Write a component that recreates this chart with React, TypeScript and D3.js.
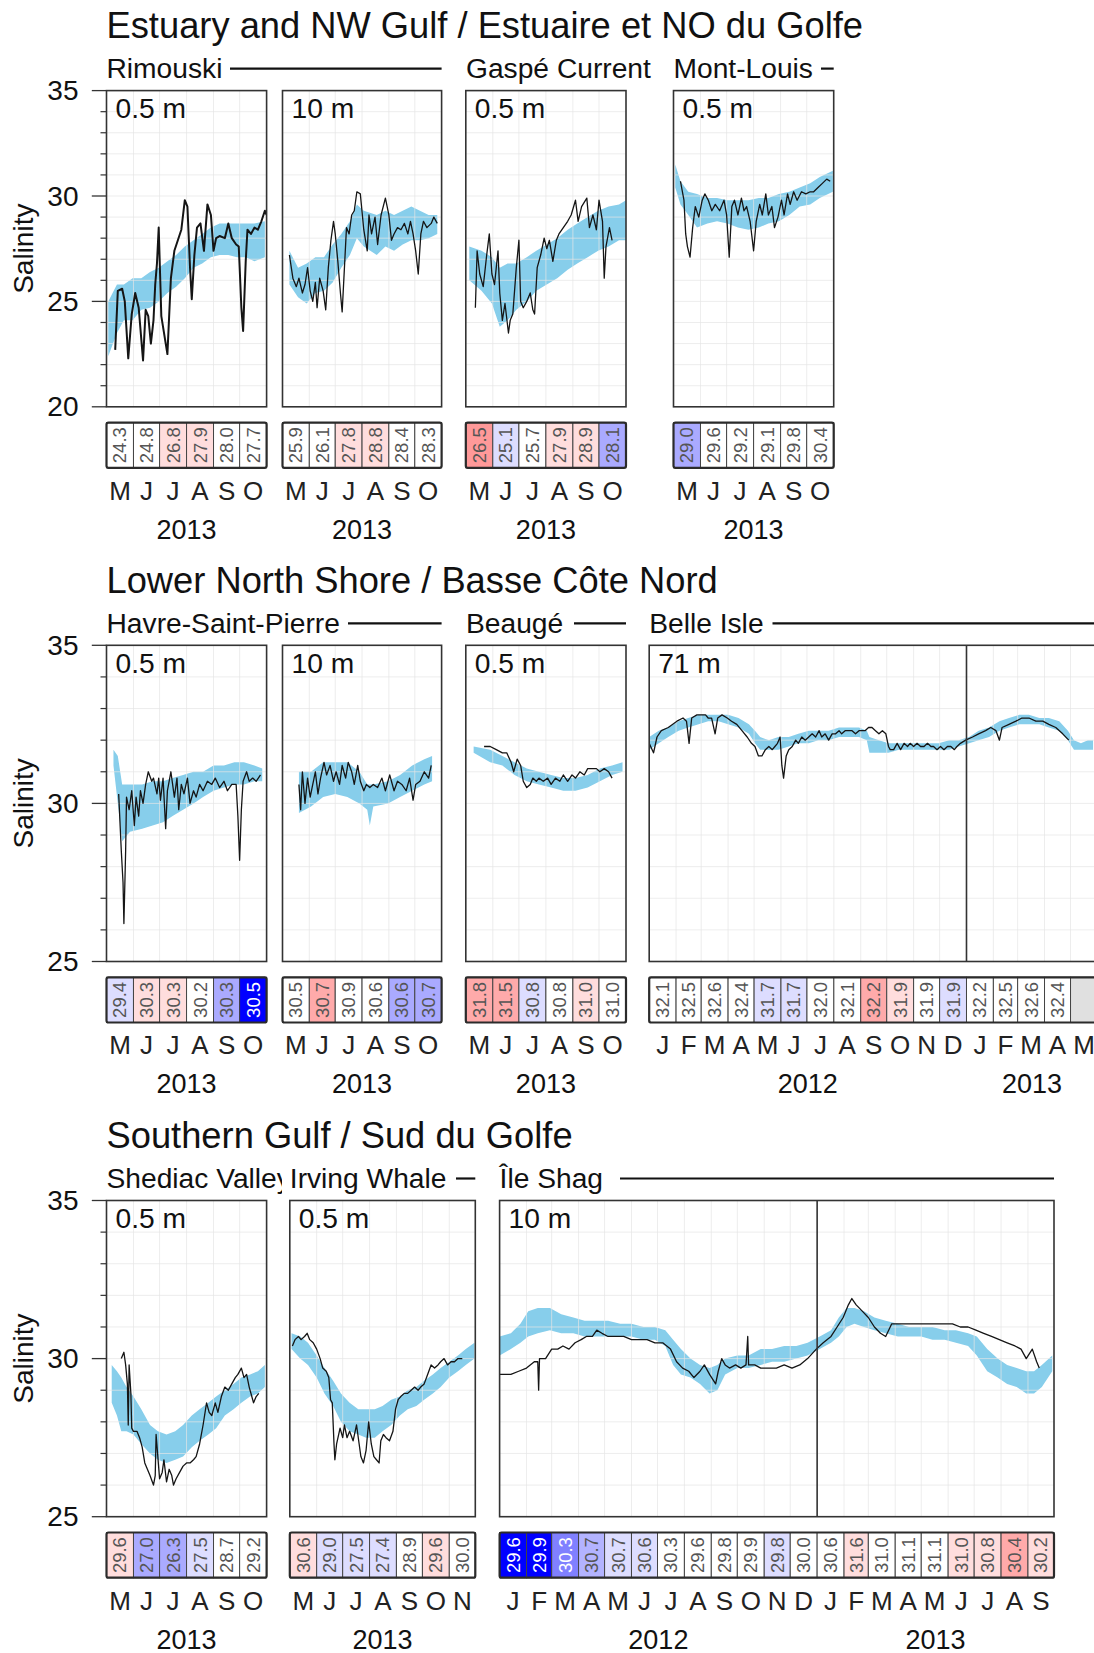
import React from "react";
import * as d3 from "d3";

// ---- data (day = day of the panel's base year, salinity) ----

const MONTH_LETTERS = ["J", "F", "M", "A", "M", "J", "J", "A", "S", "O", "N", "D"];

// Rimouski 0.5 m (2013)
const rim05Obs: [number, number][] = [
  [131, 22.7], [134, 25.5], [139, 25.6], [142, 25.0], [146, 22.3], [150, 24.4], [154, 25.4], [158, 24.7],
  [161, 23.2], [163, 22.2], [166, 24.6], [169, 24.3], [172, 23.0], [175, 24.1], [177, 25.8], [179, 26.8],
  [181, 28.5], [184, 24.3], [191, 22.5], [195, 26.1], [199, 27.4], [203, 27.9], [207, 28.4], [211, 29.8],
  [214, 29.5], [217, 26.6], [219, 25.1], [222, 27.2], [225, 28.5], [229, 28.7], [233, 27.4], [237, 29.6],
  [241, 29.1], [244, 27.4], [247, 28.0], [251, 28.1], [257, 28.0], [261, 28.7], [265, 28.0], [270, 27.7],
  [273, 27.6], [276, 24.7], [278, 23.6], [281, 26.9], [283, 28.4], [287, 28.2], [291, 28.5], [295, 28.4],
  [299, 28.8], [303, 29.3], [305, 29.1],
];
const rim05Clim: [number, number, number][] = [
  [123, 22.4, 25.0], [133, 23.5, 25.8], [141, 24.1, 25.8], [151, 24.1, 26.1], [161, 24.6, 26.1],
  [171, 24.7, 26.4], [181, 25.0, 26.6], [191, 25.4, 26.9], [201, 25.7, 27.2], [211, 26.1, 27.6],
  [221, 26.6, 27.9], [231, 26.8, 28.2], [241, 27.1, 28.5], [251, 27.2, 28.7], [261, 27.2, 28.7],
  [271, 27.1, 28.7], [281, 27.1, 28.7], [291, 26.9, 28.7], [303, 27.1, 28.8],
];
const rim05Monthly = [24.3, 24.8, 26.8, 27.9, 28.0, 27.7];
const rim05Anom = [0, 0, 0.4, 0.4, 0, 0];

// Rimouski 10 m
const rim10Obs: [number, number][] = [
  [129, 27.2], [133, 26.1], [137, 25.7], [140, 26.1], [144, 25.4], [147, 25.8], [150, 26.6], [153, 25.5],
  [156, 25.0], [159, 25.9], [161, 24.7], [164, 26.1], [168, 25.5], [171, 24.6], [174, 26.6], [177, 27.9],
  [180, 28.8], [182, 28.2], [185, 26.9], [188, 25.4], [190, 24.5], [193, 26.9], [195, 28.5], [198, 28.2],
  [201, 29.1], [204, 29.3], [207, 30.2], [211, 30.1], [215, 28.4], [219, 27.4], [221, 29.1], [224, 28.2],
  [228, 29.0], [231, 27.7], [235, 29.1], [240, 29.9], [244, 29.1], [247, 27.9], [250, 28.2], [254, 28.5],
  [258, 28.4], [262, 28.7], [266, 28.2], [269, 28.8], [272, 28.2], [275, 27.4], [278, 26.3], [281, 28.2],
  [284, 28.8], [288, 28.5], [293, 28.7], [296, 29.0], [300, 28.7],
];
const rim10Clim: [number, number, number][] = [
  [129, 25.8, 27.4], [139, 25.2, 26.6], [149, 24.9, 26.8], [159, 25.4, 27.1], [169, 25.5, 27.1],
  [179, 25.9, 27.7], [189, 26.6, 28.2], [199, 27.2, 28.8], [207, 28.0, 29.6], [215, 27.6, 29.3],
  [230, 27.2, 29.1], [240, 27.6, 29.3], [250, 27.4, 29.1], [260, 27.7, 29.3], [270, 27.9, 29.5],
  [280, 27.9, 29.3], [290, 28.0, 29.1], [300, 28.2, 29.1],
];
const rim10Monthly = [25.9, 26.1, 27.8, 28.8, 28.4, 28.3];
const rim10Anom = [0, 0, 0.4, 0.4, 0, 0];

// Gaspé Current 0.5 m
const gaspeObs: [number, number][] = [
  [132, 24.7], [134, 27.4], [137, 26.3], [141, 25.7], [145, 27.2], [148, 28.2], [151, 26.3], [154, 25.8],
  [158, 27.4], [160, 25.4], [163, 24.1], [166, 24.9], [170, 23.5], [172, 24.1], [175, 24.4], [179, 26.6],
  [182, 27.9], [184, 25.0], [187, 24.7], [191, 25.0], [195, 25.4], [198, 24.6], [200, 24.4], [203, 26.6],
  [207, 27.2], [211, 28.0], [214, 27.5], [217, 27.9], [221, 26.9], [225, 27.9], [228, 28.2], [233, 28.5],
  [238, 28.8], [242, 29.1], [247, 29.8], [250, 28.8], [254, 29.5], [260, 29.9], [263, 28.5], [267, 29.1],
  [271, 28.4], [274, 29.8], [278, 28.8], [280, 26.1], [282, 27.6], [286, 28.5], [289, 27.9],
];
const gaspeClim: [number, number, number][] = [
  [125, 26.0, 27.6], [139, 25.5, 27.4], [151, 24.9, 27.1], [160, 23.8, 26.6], [169, 24.1, 26.8],
  [179, 24.6, 26.8], [191, 25.0, 27.1], [202, 25.5, 27.4], [214, 25.8, 27.7], [226, 26.1, 28.0],
  [238, 26.5, 28.4], [249, 26.8, 28.7], [261, 27.1, 29.0], [273, 27.4, 29.3], [285, 27.6, 29.5],
  [297, 27.9, 29.6], [305, 27.9, 29.8],
];
const gaspeMonthly = [26.5, 25.1, 25.7, 27.9, 28.9, 28.1];
const gaspeAnom = [1.2, -0.4, 0, 0.4, 0.4, -1];

// Mont-Louis 0.5 m
const mlObs: [number, number][] = [
  [129, 30.7], [133, 29.8], [135, 28.2], [137, 27.6], [140, 27.1], [143, 28.5], [146, 29.5], [150, 29.0],
  [154, 29.8], [157, 30.1], [161, 29.8], [165, 29.3], [169, 29.6], [174, 29.3], [179, 29.8], [182, 29.1],
  [185, 27.1], [188, 29.5], [191, 29.8], [195, 29.1], [199, 29.9], [202, 29.3], [205, 29.5], [209, 28.8],
  [213, 27.4], [216, 28.8], [220, 29.6], [223, 29.1], [227, 30.1], [230, 29.1], [234, 29.5], [237, 28.5],
  [241, 29.0], [245, 29.8], [248, 29.1], [252, 30.1], [255, 29.6], [259, 30.2], [263, 29.8], [268, 30.2],
  [273, 30.1], [278, 30.2], [282, 30.2], [287, 30.4], [292, 30.6], [297, 30.8], [301, 30.7],
];
const mlClim: [number, number, number][] = [
  [123, 30.4, 31.5], [129, 29.6, 30.7], [138, 29.1, 30.2], [148, 28.5, 30.1], [160, 28.7, 29.9],
  [171, 28.8, 29.9], [183, 28.7, 29.8], [195, 28.5, 29.8], [207, 28.4, 29.8], [219, 28.5, 29.9],
  [230, 28.7, 29.9], [242, 28.8, 30.1], [254, 29.1, 30.2], [266, 29.5, 30.4], [278, 29.6, 30.6],
  [289, 29.9, 30.9], [304, 30.2, 31.2],
];
const mlMonthly = [29.0, 29.6, 29.2, 29.1, 29.8, 30.4];
const mlAnom = [-1, 0, 0, 0, 0, 0];

// Havre-Saint-Pierre 0.5 m
const hsp05Obs: [number, number][] = [
  [135, 30.3], [138, 28.5], [140, 27.5], [141, 26.2], [143, 28.5], [144, 30.2], [147, 29.8], [150, 30.4],
  [153, 29.3], [155, 30.2], [158, 29.6], [160, 30.4], [163, 30.0], [166, 30.6], [169, 31.0], [173, 30.7],
  [175, 30.8], [179, 30.3], [181, 30.8], [183, 30.1], [186, 30.8], [189, 29.2], [191, 30.4], [195, 31.0],
  [199, 30.2], [202, 30.8], [204, 29.8], [207, 30.6], [210, 30.3], [214, 30.8], [217, 30.0], [221, 30.4],
  [224, 30.2], [228, 30.6], [232, 30.4], [237, 30.7], [242, 30.6], [246, 30.8], [251, 30.5], [256, 30.7],
  [260, 30.4], [265, 30.6], [270, 30.6], [272, 29.6], [274, 28.2], [276, 29.8], [278, 30.7], [282, 31.0],
  [285, 30.7], [289, 30.8], [293, 30.7], [298, 30.9],
];
const hsp05Clim: [number, number, number][] = [
  [129, 31.2, 31.7], [134, 30.0, 31.5], [139, 28.8, 30.6], [148, 29.1, 30.6], [162, 29.2, 30.6],
  [174, 29.3, 30.7], [186, 29.4, 30.7], [197, 29.6, 30.8], [209, 29.8, 30.9], [221, 30.0, 31.0],
  [232, 30.2, 31.0], [244, 30.4, 31.2], [256, 30.5, 31.2], [268, 30.6, 31.3], [279, 30.6, 31.3],
  [291, 30.7, 31.2], [300, 30.7, 31.1],
];
const hsp05Monthly = [29.4, 30.3, 30.3, 30.2, 30.3, 30.5];
const hsp05Anom = [-0.4, 0.4, 0.4, 0, -1, -3];

// Havre-Saint-Pierre 10 m
const hsp10Obs: [number, number][] = [
  [140, 30.6], [142, 29.8], [144, 31.0], [147, 30.0], [150, 30.8], [153, 30.2], [156, 30.6], [159, 31.0],
  [162, 30.3], [165, 30.8], [169, 31.3], [172, 30.9], [176, 31.2], [180, 30.7], [183, 31.0], [187, 30.6],
  [190, 31.2], [194, 30.8], [197, 31.3], [201, 31.0], [204, 30.6], [208, 31.2], [211, 30.7], [215, 30.4],
  [218, 30.6], [222, 30.5], [226, 30.6], [231, 30.5], [236, 30.8], [240, 30.4], [245, 30.9], [250, 30.4],
  [254, 30.7], [259, 30.6], [264, 30.4], [268, 30.8], [272, 30.1], [275, 30.6], [280, 30.7], [285, 31.0],
  [290, 30.8], [293, 31.2],
];
const hsp10Clim: [number, number, number][] = [
  [140, 29.7, 31.0], [154, 29.9, 31.0], [168, 30.2, 31.3], [182, 30.3, 31.3], [196, 30.2, 31.3],
  [210, 30.0, 31.0], [219, 29.8, 30.6], [222, 29.3, 30.6], [226, 29.9, 30.6], [243, 30.0, 30.7],
  [257, 30.2, 30.9], [271, 30.4, 31.2], [285, 30.6, 31.4], [294, 30.7, 31.5],
];
const hsp10Monthly = [30.5, 30.7, 30.9, 30.6, 30.6, 30.7];
const hsp10Anom = [0, 1, 0, 0, -1, -1];

// Beaugé 0.5 m
const beaugeObs: [number, number][] = [
  [142, 31.8], [149, 31.8], [156, 31.7], [163, 31.6], [168, 31.6], [173, 31.3], [176, 31.0], [180, 31.4],
  [184, 31.2], [187, 30.7], [191, 30.5], [195, 30.6], [198, 30.8], [202, 30.7], [205, 30.8], [210, 30.7],
  [215, 30.8], [219, 30.6], [224, 30.8], [229, 30.7], [233, 30.9], [238, 30.7], [243, 30.9], [247, 30.8],
  [252, 31.0], [257, 30.9], [261, 31.1], [266, 31.1], [271, 31.1], [275, 31.0], [280, 31.1], [285, 31.0],
  [289, 30.8],
];
const beaugeClim: [number, number, number][] = [
  [130, 31.6, 31.8], [149, 31.3, 31.7], [163, 31.2, 31.5], [177, 30.9, 31.3], [191, 30.7, 31.1],
  [205, 30.6, 31.0], [219, 30.5, 30.9], [233, 30.4, 30.8], [247, 30.4, 30.8], [261, 30.5, 30.9],
  [275, 30.7, 31.1], [289, 30.9, 31.2], [301, 31.0, 31.3],
];
const beaugeMonthly = [31.8, 31.5, 30.8, 30.8, 31.0, 31.0];
const beaugeAnom = [1, 1, -0.4, 0, 0.4, 0];

// Belle Isle 71 m (days from 1 Jan 2012)
const belleObs: [number, number][] = [
  [1, 31.9], [6, 31.6], [10, 32.1], [15, 32.3], [23, 32.4], [33, 32.6], [40, 32.7], [44, 32.6], [47, 31.9],
  [50, 32.7], [56, 32.8], [62, 32.8], [66, 32.8], [69, 32.7], [73, 32.7], [77, 32.2], [80, 32.7], [85, 32.8],
  [91, 32.7], [96, 32.6], [102, 32.5], [108, 32.3], [114, 32.1], [119, 31.9], [123, 31.8], [127, 31.5],
  [131, 31.5], [135, 31.7], [139, 31.8], [143, 31.7], [146, 31.8], [149, 31.9], [152, 32.1], [154, 31.2],
  [156, 30.8], [159, 31.5], [162, 31.7], [166, 31.8], [170, 32.0], [173, 31.9], [177, 32.1], [181, 32.0],
  [185, 32.1], [189, 32.2], [193, 32.1], [197, 32.3], [200, 32.1], [204, 32.2], [208, 32.0], [212, 32.2],
  [216, 32.2], [220, 32.3], [223, 32.2], [227, 32.3], [231, 32.3], [235, 32.3], [239, 32.2], [243, 32.3],
  [247, 32.3], [250, 32.3], [254, 32.4], [258, 32.4], [262, 32.3], [266, 32.2], [270, 32.3], [274, 32.2],
  [277, 31.8], [279, 31.7], [283, 31.7], [287, 31.9], [291, 31.7], [295, 31.9], [299, 31.8], [302, 31.9],
  [306, 31.8], [310, 31.9], [314, 31.8], [318, 31.8], [322, 31.9], [326, 31.8], [329, 31.8], [333, 31.7],
  [337, 31.8], [341, 31.7], [345, 31.8], [349, 31.8], [353, 31.7], [356, 31.8], [360, 31.9], [366, 32.0],
  [374, 32.1], [381, 32.2], [389, 32.3], [395, 32.4], [401, 32.3], [405, 32.0], [408, 32.4], [416, 32.5],
  [424, 32.6], [431, 32.7], [439, 32.7], [447, 32.6], [455, 32.6], [462, 32.5], [470, 32.4], [478, 32.2],
  [485, 32.0],
];
const belleClim: [number, number, number][] = [
  [1, 31.7, 32.1], [12, 31.9, 32.3], [23, 32.1, 32.4], [35, 32.3, 32.6], [46, 32.4, 32.7], [58, 32.5, 32.8],
  [69, 32.6, 32.8], [81, 32.6, 32.8], [92, 32.5, 32.8], [104, 32.4, 32.7], [116, 32.2, 32.5], [123, 31.9, 32.3],
  [129, 31.7, 32.1], [139, 31.7, 32.0], [150, 31.7, 32.1], [162, 31.8, 32.1], [173, 31.9, 32.2], [185, 31.9, 32.3],
  [196, 32.0, 32.3], [208, 32.0, 32.3], [220, 32.1, 32.4], [231, 32.1, 32.4], [243, 32.1, 32.4], [252, 32.0, 32.3],
  [255, 31.6, 32.1], [266, 31.6, 32.0], [277, 31.6, 31.9], [289, 31.7, 31.9], [301, 31.7, 31.9], [312, 31.7, 31.9],
  [324, 31.7, 31.9], [335, 31.7, 31.9], [347, 31.7, 32.0], [358, 31.8, 32.0], [370, 31.9, 32.1], [381, 32.0, 32.3],
  [393, 32.1, 32.4], [405, 32.3, 32.6], [416, 32.4, 32.7], [428, 32.5, 32.8], [439, 32.5, 32.8], [451, 32.5, 32.7],
  [462, 32.4, 32.7], [474, 32.3, 32.6], [484, 32.0, 32.3], [491, 31.7, 32.0], [499, 31.7, 31.9], [507, 31.7, 32.0],
  [513, 31.7, 32.0],
];
const belleMonthly: (number | null)[] = [
  32.1, 32.5, 32.6, 32.4, 31.7, 31.7, 32.0, 32.1, 32.2, 31.9, 31.9, 31.9, 32.2, 32.5, 32.6, 32.4, null,
];
const belleAnom = [0, 0, 0, 0, -0.4, -0.4, 0, 0, 1, 0.4, 0, -0.4, 0, 0, 0, 0, 0];

// Shediac Valley 0.5 m
const shediacObs: [number, number][] = [
  [138, 30.0], [141, 30.2], [143, 29.8], [145, 29.2], [146, 27.9], [147, 29.8], [149, 28.9], [150, 27.8],
  [152, 27.7], [156, 27.7], [159, 27.5], [162, 27.2], [165, 26.7], [168, 26.5], [171, 26.3], [175, 26.0],
  [177, 26.3], [178, 27.6], [182, 26.2], [185, 26.4], [187, 26.8], [190, 26.1], [193, 26.5], [196, 26.3],
  [198, 26.0], [201, 26.2], [205, 26.4], [209, 26.6], [213, 26.7], [217, 26.7], [221, 26.8], [224, 26.9],
  [228, 27.3], [232, 27.9], [236, 28.6], [239, 28.3], [242, 28.2], [246, 28.6], [249, 28.3], [253, 28.8],
  [257, 29.1], [261, 29.0], [265, 29.2], [269, 29.4], [272, 29.5], [276, 29.7], [279, 29.4], [282, 29.5],
  [285, 29.1], [288, 28.8], [290, 28.6], [293, 28.8], [296, 28.9],
];
const shediacClim: [number, number, number][] = [
  [127, 28.6, 29.8], [133, 28.2, 29.6], [138, 27.7, 29.4], [144, 27.7, 29.1], [152, 27.6, 28.8],
  [161, 27.3, 28.4], [171, 27.0, 27.9], [180, 26.8, 27.7], [190, 26.7, 27.6], [200, 26.8, 27.7],
  [209, 26.9, 27.9], [219, 27.2, 28.2], [228, 27.4, 28.4], [238, 27.6, 28.6], [247, 27.8, 28.8],
  [257, 28.2, 29.0], [267, 28.4, 29.2], [276, 28.6, 29.4], [286, 28.8, 29.5], [295, 28.9, 29.6],
  [303, 29.1, 29.8],
];
const shediacMonthly = [29.6, 27.0, 26.3, 27.5, 28.7, 29.2];
const shediacAnom = [0.4, -1, -1, -0.4, 0, 0];

// Irving Whale 0.5 m
const irvingObs: [number, number][] = [
  [124, 30.4], [127, 30.6], [131, 30.7], [134, 30.6], [138, 30.7], [141, 30.8], [144, 30.6], [148, 30.5],
  [152, 30.3], [156, 30.0], [159, 29.7], [163, 29.6], [166, 29.4], [168, 28.7], [170, 28.6], [172, 27.3],
  [173, 26.8], [175, 27.3], [179, 27.8], [182, 27.5], [184, 27.9], [187, 27.5], [190, 27.7], [194, 27.4],
  [198, 27.9], [201, 27.3], [203, 26.9], [206, 26.7], [209, 27.1], [212, 28.0], [215, 27.3], [218, 26.9],
  [221, 26.8], [224, 26.7], [226, 27.4], [229, 27.6], [232, 27.5], [236, 27.4], [240, 27.7], [243, 28.4],
  [246, 28.7], [249, 28.8], [253, 28.9], [257, 28.9], [261, 29.0], [265, 29.1], [269, 29.0], [272, 29.1],
  [276, 29.2], [280, 29.5], [284, 29.8], [288, 29.7], [292, 29.8], [295, 29.9], [299, 30.0], [303, 29.8],
  [307, 29.9], [311, 29.9], [315, 30.0], [320, 30.0],
];
const irvingClim: [number, number, number][] = [
  [123, 30.3, 30.8], [133, 30.0, 30.7], [142, 29.8, 30.5], [152, 29.4, 30.1], [161, 28.9, 29.7],
  [171, 28.5, 29.3], [180, 28.0, 28.9], [190, 27.7, 28.6], [200, 27.6, 28.4], [209, 27.5, 28.4],
  [219, 27.5, 28.4], [228, 27.7, 28.5], [238, 27.9, 28.7], [248, 28.2, 28.8], [257, 28.4, 29.0],
  [267, 28.5, 29.1], [276, 28.7, 29.3], [286, 28.9, 29.5], [295, 29.1, 29.7], [305, 29.4, 29.9],
  [315, 29.6, 30.1], [324, 29.8, 30.3], [334, 30.0, 30.5],
];
const irvingMonthly = [30.6, 29.0, 27.5, 27.4, 28.9, 29.6, 30.0];
const irvingAnom = [0.4, -0.4, -0.4, -0.4, 0, 0.4, 0];

// Île Shag 10 m (days from 1 Jan 2012)
const shagObs: [number, number][] = [
  [1, 29.5], [14, 29.5], [23, 29.6], [32, 29.7], [41, 29.9], [45, 29.9], [46, 29.0], [47, 30.0], [54, 30.0],
  [61, 30.3], [68, 30.3], [74, 30.4], [81, 30.3], [88, 30.5], [95, 30.6], [101, 30.7], [108, 30.7],
  [113, 30.9], [119, 30.8], [126, 30.7], [135, 30.7], [144, 30.7], [153, 30.6], [162, 30.6], [171, 30.6],
  [180, 30.5], [189, 30.5], [198, 30.3], [205, 29.9], [212, 29.7], [219, 29.6], [225, 29.4], [232, 29.6],
  [237, 29.8], [243, 29.5], [250, 29.2], [253, 29.6], [257, 30.0], [261, 29.8], [266, 29.7], [273, 29.8],
  [279, 29.7], [285, 29.8], [287, 30.7], [288, 29.8], [295, 29.8], [302, 29.7], [311, 29.7], [320, 29.7],
  [329, 29.8], [338, 29.7], [347, 29.8], [356, 30.0], [366, 30.3], [374, 30.5], [383, 30.7], [390, 31.0],
  [397, 31.3], [403, 31.7], [407, 31.9], [412, 31.7], [419, 31.5], [426, 31.3], [433, 31.0], [440, 30.8],
  [446, 30.7], [453, 31.1], [460, 31.1], [469, 31.1], [478, 31.1], [487, 31.1], [496, 31.1], [505, 31.1],
  [514, 31.1], [523, 31.1], [532, 31.0], [541, 31.0], [550, 30.9], [559, 30.8], [568, 30.7], [577, 30.6],
  [586, 30.5], [595, 30.4], [602, 30.3], [608, 30.0], [615, 30.3], [620, 29.9], [623, 29.7],
];
const shagClim: [number, number, number][] = [
  [1, 30.1, 30.7], [14, 30.3, 30.8], [25, 30.5, 31.1], [34, 30.7, 31.5], [45, 30.8, 31.6], [59, 30.9, 31.6],
  [72, 30.8, 31.4], [86, 30.8, 31.3], [99, 30.7, 31.2], [113, 30.7, 31.2], [126, 30.7, 31.2], [140, 30.7, 31.1],
  [153, 30.7, 31.1], [167, 30.6, 31.0], [180, 30.6, 31.0], [192, 30.4, 30.9], [201, 29.8, 30.6], [210, 29.5, 30.3],
  [221, 29.4, 30.0], [232, 29.2, 29.8], [243, 28.9, 29.7], [252, 29.0, 29.8], [261, 29.5, 30.0], [275, 29.7, 30.1],
  [288, 29.7, 30.1], [302, 29.8, 30.3], [315, 29.9, 30.3], [329, 29.9, 30.4], [343, 30.0, 30.4], [356, 30.1, 30.5],
  [370, 30.3, 30.7], [383, 30.5, 30.9], [392, 30.7, 31.3], [401, 31.0, 31.6], [410, 31.1, 31.6], [421, 31.0, 31.5],
  [433, 30.9, 31.3], [446, 30.8, 31.2], [460, 30.7, 31.1], [473, 30.7, 31.0], [487, 30.7, 31.0], [500, 30.6, 31.0],
  [514, 30.6, 30.9], [527, 30.5, 30.9], [541, 30.4, 30.8], [551, 30.1, 30.7], [563, 29.6, 30.3], [575, 29.4, 30.0],
  [586, 29.2, 29.8], [597, 29.1, 29.7], [608, 28.9, 29.6], [617, 28.9, 29.6], [626, 29.1, 29.8], [638, 29.6, 30.1],
];
const shagMonthly = [
  29.6, 29.9, 30.3, 30.7, 30.7, 30.6, 30.3, 29.6, 29.8, 29.9, 29.8, 30.0,
  30.6, 31.6, 31.0, 31.1, 31.1, 31.0, 30.8, 30.4, 30.2,
];
const shagAnom = [-3, -3, -1.5, -0.9, -0.4, -0.4, 0, 0, 0, 0, -0.4, 0, 0, 0.4, 0, 0, 0, 0.4, 0.4, 1, 0.4];

// ---- layout ----

const FONT = "'Liberation Sans', Arial, Helvetica, sans-serif";
const PANEL_H = 316.2;
const LABEL_SIZE = 28.2;

type Panel = {
  depth: string;
  x0: number;
  x1: number;
  base: number;
  start: [number, number];
  months: number;
  obs: [number, number][];
  clim: [number, number, number][];
  monthly: (number | null)[];
  anom: number[];
  lw?: number;
  divider?: boolean;
};
type Station = { name: string; x: number; lineFrom?: number; lineTo?: number; clipTo?: number };
type Row = { title: string; top: number; yDomain: [number, number]; panels: Panel[]; stations: Station[] };

const rows: Row[] = [
  {
    title: "Estuary and NW Gulf / Estuaire et NO du Golfe",
    top: 90.6,
    yDomain: [20, 35],
    stations: [
      { name: "Rimouski", x: 106.5, lineFrom: 230, lineTo: 441.6 },
      { name: "Gaspé Current", x: 466 },
      { name: "Mont-Louis", x: 673.5, lineFrom: 821, lineTo: 833.7 },
    ],
    panels: [
      { depth: "0.5 m", x0: 106.5, x1: 266.6, base: 2013, start: [2013, 4], months: 6, obs: rim05Obs, clim: rim05Clim, monthly: rim05Monthly, anom: rim05Anom, lw: 2 },
      { depth: "10 m", x0: 282.5, x1: 441.6, base: 2013, start: [2013, 4], months: 6, obs: rim10Obs, clim: rim10Clim, monthly: rim10Monthly, anom: rim10Anom },
      { depth: "0.5 m", x0: 465.8, x1: 626, base: 2013, start: [2013, 4], months: 6, obs: gaspeObs, clim: gaspeClim, monthly: gaspeMonthly, anom: gaspeAnom },
      { depth: "0.5 m", x0: 673.5, x1: 833.7, base: 2013, start: [2013, 4], months: 6, obs: mlObs, clim: mlClim, monthly: mlMonthly, anom: mlAnom },
    ],
  },
  {
    title: "Lower North Shore / Basse Côte Nord",
    top: 645.3,
    yDomain: [25, 35],
    stations: [
      { name: "Havre-Saint-Pierre", x: 106.5, lineFrom: 348, lineTo: 441.6 },
      { name: "Beaugé", x: 466, lineFrom: 574, lineTo: 626 },
      { name: "Belle Isle", x: 649.2, lineFrom: 772.5, lineTo: 1100 },
    ],
    panels: [
      { depth: "0.5 m", x0: 106.5, x1: 266.6, base: 2013, start: [2013, 4], months: 6, obs: hsp05Obs, clim: hsp05Clim, monthly: hsp05Monthly, anom: hsp05Anom },
      { depth: "10 m", x0: 282.5, x1: 441.6, base: 2013, start: [2013, 4], months: 6, obs: hsp10Obs, clim: hsp10Clim, monthly: hsp10Monthly, anom: hsp10Anom },
      { depth: "0.5 m", x0: 465.8, x1: 626, base: 2013, start: [2013, 4], months: 6, obs: beaugeObs, clim: beaugeClim, monthly: beaugeMonthly, anom: beaugeAnom },
      { depth: "71 m", x0: 649.2, x1: 1097.4, base: 2012, start: [2012, 0], months: 17, obs: belleObs, clim: belleClim, monthly: belleMonthly, anom: belleAnom, divider: true },
    ],
  },
  {
    title: "Southern Gulf / Sud du Golfe",
    top: 1200.5,
    yDomain: [25, 35],
    stations: [
      { name: "Shediac Valley", x: 106.5, clipTo: 282 },
      { name: "Irving Whale", x: 289.8, lineFrom: 456, lineTo: 475.3 },
      { name: "Île Shag", x: 499.6, lineFrom: 620, lineTo: 1054 },
    ],
    panels: [
      { depth: "0.5 m", x0: 106.5, x1: 266.6, base: 2013, start: [2013, 4], months: 6, obs: shediacObs, clim: shediacClim, monthly: shediacMonthly, anom: shediacAnom },
      { depth: "0.5 m", x0: 289.8, x1: 475.3, base: 2013, start: [2013, 4], months: 7, obs: irvingObs, clim: irvingClim, monthly: irvingMonthly, anom: irvingAnom },
      { depth: "10 m", x0: 499.6, x1: 1054, base: 2012, start: [2012, 0], months: 21, obs: shagObs, clim: shagClim, monthly: shagMonthly, anom: shagAnom, divider: true },
    ],
  },
];

const anomColor = d3.scaleLinear<string>().domain([-3, 0, 3]).range(["#0000ff", "#ffffff", "#ff0000"]);

function PanelView({ p, row, ri, pi }: { p: Panel; row: Row; ri: number; pi: number }) {
  const top = row.top;
  const bottom = top + PANEL_H;
  const start = new Date(p.start[0], p.start[1], 1);
  const end = new Date(p.start[0], p.start[1] + p.months, 1);
  const x = d3.scaleTime().domain([start, end]).range([p.x0, p.x1]);
  const y = d3.scaleLinear().domain(row.yDomain).range([bottom, top]);
  const day = (d: number) => new Date(p.base, 0, d);

  const area = d3
    .area<[number, number, number]>()
    .x((d) => x(day(d[0])))
    .y0((d) => y(d[1]))
    .y1((d) => y(d[2]));
  const line = d3
    .line<[number, number]>()
    .x((d) => x(day(d[0])))
    .y((d) => y(d[1]));

  const monthStarts = d3.range(p.months + 1).map((i) => new Date(p.start[0], p.start[1] + i, 1));
  const hLines = d3.range(row.yDomain[0] + 1, row.yDomain[1]);
  const clipId = `clip-${ri}-${pi}`;

  const tTop = bottom + 15.8;
  const tBot = bottom + 61;

  const years = Array.from(new Set(monthStarts.slice(0, -1).map((d) => d.getFullYear())));

  return (
    <g>
      <defs>
        <clipPath id={clipId}>
          <rect x={p.x0} y={top} width={p.x1 - p.x0} height={PANEL_H} />
        </clipPath>
      </defs>
      <rect x={p.x0} y={top} width={p.x1 - p.x0} height={PANEL_H} fill="#fff" />
      <g clipPath={`url(#${clipId})`}>
        <path d={area(p.clim) || ""} fill="#87ceeb" />
        {monthStarts.slice(1, -1).map((d, i) => (
          <line key={"v" + i} x1={x(d)} x2={x(d)} y1={top} y2={bottom} stroke="#e6e6e6" strokeOpacity={0.7} strokeWidth={1} />
        ))}
        {hLines.map((v) => (
          <line key={"h" + v} x1={p.x0} x2={p.x1} y1={y(v)} y2={y(v)} stroke="#e6e6e6" strokeOpacity={0.7} strokeWidth={1} />
        ))}
        <path d={line(p.obs) || ""} fill="none" stroke="#151515" strokeWidth={p.lw ?? 1.3} strokeLinejoin="round" />
      </g>
      {p.divider && (
        <line x1={x(new Date(p.base + 1, 0, 1))} x2={x(new Date(p.base + 1, 0, 1))} y1={top} y2={bottom} stroke="#333" strokeWidth={1.6} />
      )}
      <rect x={p.x0} y={top} width={p.x1 - p.x0} height={PANEL_H} fill="none" stroke="#333" strokeWidth={1.6} />
      <text x={p.x0 + 9} y={top + 27.5} fontSize={LABEL_SIZE} fontFamily={FONT} fill="#111">
        {p.depth}
      </text>

      {/* monthly table */}
      {monthStarts.slice(0, -1).map((d, i) => {
        const cx0 = x(d);
        const cx1 = x(monthStarts[i + 1]);
        const v = p.monthly[i];
        const a = p.anom[i] ?? 0;
        const fill = v === null ? "#e0e0e0" : anomColor(a);
        const cx = (cx0 + cx1) / 2;
        const cy = (tTop + tBot) / 2;
        return (
          <g key={"c" + i}>
            <rect x={cx0} y={tTop} width={cx1 - cx0} height={tBot - tTop} fill={fill} stroke="#444" strokeWidth={1} />
            {v !== null && v !== undefined && (
              <text
                transform={`translate(${cx},${cy}) rotate(-90)`}
                textAnchor="middle"
                dominantBaseline="central"
                fontSize={18.5}
                fontFamily={FONT}
                fill={a <= -1.5 ? "#fff" : "#555"}
              >
                {v.toFixed(1)}
              </text>
            )}
            <text x={cx} y={bottom + 92.8} textAnchor="middle" fontSize={26} fontFamily={FONT} fill="#222">
              {MONTH_LETTERS[d.getMonth()]}
            </text>
          </g>
        );
      })}
      <rect x={p.x0} y={tTop} width={p.x1 - p.x0} height={tBot - tTop} rx={2} fill="none" stroke="#2b2b2b" strokeWidth={2.2} />
      {years.map((yr) => {
        const a = Math.max(+start, +new Date(yr, 0, 1));
        const b = Math.min(+end, +new Date(yr + 1, 0, 1));
        const cx = (x(new Date(a)) + x(new Date(b))) / 2;
        return (
          <text key={yr} x={cx} y={bottom + 131.8} textAnchor="middle" fontSize={27} fontFamily={FONT} fill="#111">
            {yr}
          </text>
        );
      })}
    </g>
  );
}

function RowView({ row, ri }: { row: Row; ri: number }) {
  const top = row.top;
  const bottom = top + PANEL_H;
  const y = d3.scaleLinear().domain(row.yDomain).range([bottom, top]);
  const left = row.panels[0].x0;
  const major = d3.range(row.yDomain[0], row.yDomain[1] + 1, 5);
  const minor = d3.range(row.yDomain[0], row.yDomain[1] + 1, 1).filter((v) => v % 5 !== 0);
  return (
    <g>
      <text x={106.5} y={top - 52.6} fontSize={36.3} fontFamily={FONT} fill="#111">
        {row.title}
      </text>
      {row.stations.map((s, i) => (
        <g key={i}>
          {s.clipTo !== undefined && (
            <defs>
              <clipPath id={`st-${ri}-${i}`}>
                <rect x={s.x - 5} y={top - 50} width={s.clipTo - s.x + 5} height={50} />
              </clipPath>
            </defs>
          )}
          <text
            x={s.x}
            y={top - 12.6}
            fontSize={LABEL_SIZE}
            fontFamily={FONT}
            fill="#111"
            clipPath={s.clipTo !== undefined ? `url(#st-${ri}-${i})` : undefined}
          >
            {s.name}
          </text>
          {s.lineFrom !== undefined && (
            <line x1={s.lineFrom} x2={s.lineTo} y1={top - 22} y2={top - 22} stroke="#111" strokeWidth={2.2} />
          )}
        </g>
      ))}
      {major.map((v) => (
        <g key={"M" + v}>
          <line x1={left - 14.7} x2={left} y1={y(v)} y2={y(v)} stroke="#333" strokeWidth={1.3} />
          <text x={left - 28} y={y(v)} textAnchor="end" dominantBaseline="central" fontSize={28} fontFamily={FONT} fill="#111">
            {v}
          </text>
        </g>
      ))}
      {minor.map((v) => (
        <line key={"m" + v} x1={left - 6} x2={left} y1={y(v)} y2={y(v)} stroke="#333" strokeWidth={1.2} />
      ))}
      <text
        transform={`translate(23,${(top + bottom) / 2}) rotate(-90)`}
        textAnchor="middle"
        dominantBaseline="central"
        fontSize={28}
        fontFamily={FONT}
        fill="#111"
      >
        Salinity
      </text>
      {row.panels.map((p, pi) => (
        <PanelView key={pi} p={p} row={row} ri={ri} pi={pi} />
      ))}
    </g>
  );
}

export default function App() {
  return (
    <svg
      width={1094}
      height={1653}
      viewBox="0 0 1094 1653"
      style={{ position: "absolute", left: 0, top: 0, background: "#fff" }}
    >
      <rect width={1094} height={1653} fill="#fff" />
      {rows.map((r, i) => (
        <RowView key={i} row={r} ri={i} />
      ))}
    </svg>
  );
}
